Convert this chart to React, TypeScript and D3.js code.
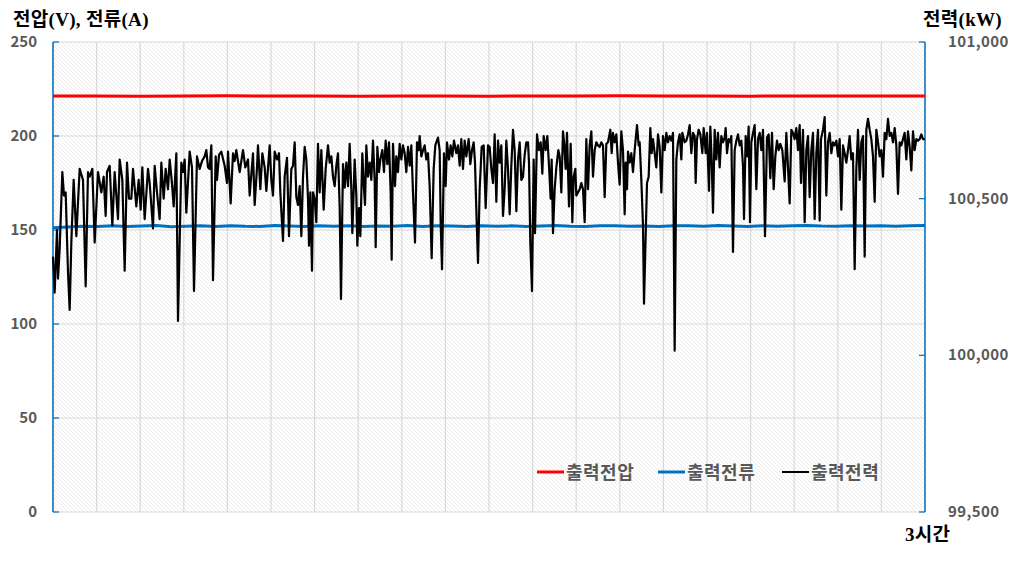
import React from "react";
import * as d3 from "d3";

// x = sample index over 3 hours (0..2616)
const TOTAL_SAMPLES = 2616;

const voltageV = [
  221.3, 221.3, 221.2, 221.3, 221.4, 221.3, 221.3, 221.2, 221.3, 221.3, 221.2,
  221.3, 221.3, 221.4, 221.3, 221.3, 221.2, 221.3, 221.3, 221.3, 221.3,
];

const currentA = [
  151.2, 151.6, 152.0, 151.8, 152.3, 151.9, 152.1, 152.4, 151.7, 152.0, 152.2,
  151.8, 152.3, 152.0, 151.9, 152.4, 152.1, 151.8, 152.2, 152.0, 152.3, 151.9,
  152.1, 152.0, 152.4, 151.8, 152.2, 152.1, 151.9, 152.3, 152.0, 152.2, 151.8,
  152.1, 152.4, 152.0, 151.9, 152.2, 152.3, 152.0, 152.1, 151.8, 152.3, 152.2,
  152.0, 152.4, 152.1, 151.9, 152.3, 152.0, 152.2, 152.4, 152.1, 152.0, 152.3,
  152.1, 152.2, 152.0, 152.3, 152.4,
];

const powerKW: [number, number][] = [
  [0, 100315], [5, 100200], [12, 100400], [15, 100245], [20, 100340], [28, 100585],
  [33, 100510], [38, 100520], [45, 100265], [50, 100145], [55, 100360], [62, 100560],
  [70, 100380], [80, 100595], [90, 100560], [98, 100220], [105, 100585], [110, 100570],
  [118, 100595], [125, 100360], [135, 100585], [145, 100520], [152, 100570], [158, 100445],
  [162, 100585], [170, 100605], [178, 100415], [185, 100585], [195, 100435], [200, 100625],
  [208, 100560], [215, 100270], [222, 100615], [228, 100500], [235, 100500], [240, 100595],
  [250, 100475], [257, 100560], [263, 100465], [268, 100600], [275, 100435], [285, 100595],
  [290, 100550], [300, 100405], [305, 100605], [312, 100520], [320, 100435], [325, 100615],
  [332, 100500], [338, 100595], [345, 100530], [350, 100625], [356, 100560], [362, 100475],
  [370, 100645], [375, 100110], [385, 100615], [390, 100585], [395, 100625], [400, 100455],
  [410, 100650], [417, 100600], [423, 100205], [432, 100635], [440, 100595], [447, 100620],
  [455, 100635], [460, 100655], [465, 100600], [470, 100595], [475, 100670], [480, 100240],
  [488, 100635], [492, 100560], [498, 100640], [505, 100650], [515, 100605], [522, 100550],
  [525, 100650], [533, 100485], [540, 100645], [545, 100620], [550, 100655], [560, 100585],
  [570, 100655], [577, 100600], [585, 100625], [590, 100510], [600, 100645], [605, 100480],
  [612, 100600], [615, 100670], [622, 100530], [628, 100645], [635, 100600], [640, 100525],
  [650, 100670], [655, 100560],
  [660, 100510], [665, 100650], [672, 100625], [678, 100645], [682, 100520], [690, 100365],
  [695, 100570], [702, 100630], [708, 100380], [715, 100595], [720, 100605], [725, 100680],
  [730, 100505], [735, 100480], [740, 100540], [745, 100380], [750, 100570], [755, 100665],
  [760, 100625], [765, 100500], [768, 100350], [772, 100520], [777, 100270], [780, 100520],
  [785, 100500], [790, 100425], [795, 100675], [800, 100520], [805, 100655], [812, 100465],
  [818, 100595], [825, 100670], [830, 100615], [835, 100635], [840, 100570], [845, 100540],
  [850, 100605], [855, 100645], [860, 100475], [864, 100180], [870, 100610], [875, 100535],
  [880, 100615], [885, 100540], [890, 100675], [895, 100530], [898, 100390], [905, 100625],
  [910, 100510], [913, 100350], [918, 100470], [922, 100380], [928, 100645], [932, 100550],
  [936, 100480], [940, 100670], [945, 100570], [950, 100615], [955, 100560], [960, 100685],
  [965, 100560], [968, 100345], [973, 100665], [978, 100585], [982, 100625], [988, 100655],
  [993, 100585], [998, 100685], [1003, 100610], [1008, 100680], [1013, 100520], [1016, 100305],
  [1020, 100675], [1026, 100540], [1030, 100635], [1035, 100585], [1040, 100675], [1045, 100625],
  [1050, 100670], [1055, 100645], [1060, 100585], [1065, 100665], [1070, 100605], [1075, 100670],
  [1080, 100520], [1086, 100360], [1092, 100680], [1097, 100655], [1100, 100700], [1105, 100635],
  [1110, 100655], [1115, 100670], [1120, 100625], [1125, 100645], [1130, 100540], [1136, 100310],
  [1142, 100595], [1147, 100670], [1150, 100680], [1155, 100695], [1160, 100655], [1163, 100425],
  [1167, 100275], [1173, 100645], [1178, 100540], [1182, 100680], [1188, 100625], [1193, 100670],
  [1198, 100635], [1203, 100685], [1210, 100645], [1215, 100670], [1220, 100605], [1225, 100690],
  [1230, 100595], [1235, 100685], [1240, 100635], [1247, 100690], [1252, 100610], [1257, 100655],
  [1262, 100680], [1266, 100615], [1270, 100465], [1275, 100295], [1280, 100530], [1286, 100665],
  [1292, 100670], [1298, 100470], [1305, 100670], [1310, 100665], [1315, 100595],
  [1320, 100550], [1325, 100705], [1330, 100490], [1335, 100685], [1340, 100615], [1345, 100670],
  [1350, 100445], [1355, 100530], [1360, 100685], [1365, 100595], [1370, 100450], [1375, 100605],
  [1380, 100720], [1385, 100655], [1390, 100460], [1395, 100625], [1400, 100680], [1405, 100560],
  [1410, 100570], [1415, 100640], [1420, 100680], [1425, 100680], [1428, 100615], [1432, 100360],
  [1437, 100205], [1442, 100625], [1446, 100390], [1452, 100705], [1458, 100655], [1463, 100680],
  [1468, 100580], [1472, 100700], [1478, 100655], [1483, 100700], [1488, 100605], [1493, 100500],
  [1496, 100625], [1500, 100390], [1505, 100530], [1510, 100600], [1516, 100655], [1520, 100635],
  [1525, 100520], [1530, 100715], [1534, 100670], [1538, 100595], [1542, 100710], [1548, 100475],
  [1553, 100675], [1558, 100425], [1562, 100570], [1567, 100595], [1570, 100510], [1575, 100520],
  [1580, 100530], [1585, 100550], [1590, 100530], [1595, 100425], [1600, 100690], [1605, 100530],
  [1610, 100670], [1615, 100715], [1620, 100570], [1625, 100655], [1630, 100680], [1635, 100670],
  [1640, 100665], [1645, 100680], [1650, 100670], [1655, 100505], [1660, 100675], [1665, 100680],
  [1672, 100720], [1676, 100645], [1680, 100710], [1685, 100680], [1690, 100705], [1695, 100615],
  [1700, 100545], [1705, 100715], [1710, 100655], [1715, 100450], [1718, 100615], [1722, 100530],
  [1725, 100650], [1730, 100615], [1735, 100645], [1740, 100585], [1745, 100655], [1752, 100735],
  [1757, 100670], [1760, 100680], [1765, 100560], [1770, 100415], [1773, 100165], [1778, 100380],
  [1782, 100550], [1787, 100570], [1792, 100725], [1796, 100645], [1800, 100690], [1805, 100645],
  [1810, 100600], [1815, 100705], [1820, 100665], [1825, 100520], [1830, 100700], [1835, 100655],
  [1840, 100710], [1845, 100680], [1850, 100700], [1855, 100685], [1860, 100710], [1865, 100015],
  [1870, 100625], [1875, 100680], [1880, 100705], [1885, 100625], [1888, 100710], [1895, 100680],
  [1900, 100685], [1905, 100705], [1910, 100735], [1915, 100645], [1920, 100710], [1925, 100700],
  [1928, 100550], [1932, 100690], [1937, 100720], [1942, 100705], [1948, 100645], [1952, 100725],
  [1958, 100645], [1962, 100710], [1968, 100525], [1972, 100730], [1976, 100625],
  [1980, 100455], [1985, 100720], [1990, 100625], [1995, 100710], [2000, 100600], [2005, 100700],
  [2010, 100680], [2015, 100695], [2018, 100725], [2022, 100645], [2027, 100690], [2032, 100680],
  [2035, 100700], [2040, 100330], [2045, 100655], [2050, 100685], [2055, 100705], [2060, 100670],
  [2065, 100685], [2070, 100605], [2073, 100435], [2078, 100700], [2083, 100635], [2087, 100730],
  [2091, 100425], [2095, 100680], [2100, 100710], [2105, 100735], [2110, 100530], [2115, 100690],
  [2120, 100710], [2125, 100655], [2130, 100720], [2136, 100380], [2142, 100695], [2147, 100705],
  [2152, 100565], [2157, 100710], [2162, 100530], [2167, 100635], [2172, 100685], [2177, 100655],
  [2182, 100675], [2188, 100655], [2195, 100555], [2200, 100710], [2205, 100600], [2210, 100485],
  [2215, 100720], [2220, 100710], [2225, 100690], [2230, 100725], [2235, 100655], [2240, 100735],
  [2244, 100550], [2250, 100720], [2255, 100425], [2260, 100655], [2265, 100700], [2270, 100505],
  [2275, 100655], [2280, 100710], [2285, 100435], [2290, 100645], [2295, 100720], [2300, 100430],
  [2304, 100690], [2310, 100720], [2315, 100760], [2320, 100510], [2325, 100680], [2330, 100710],
  [2335, 100645], [2340, 100680], [2345, 100670], [2350, 100685], [2355, 100635], [2360, 100690],
  [2365, 100465], [2370, 100670], [2375, 100645], [2380, 100615], [2385, 100655], [2390, 100700],
  [2395, 100625], [2400, 100645], [2405, 100275], [2410, 100595], [2415, 100720], [2420, 100560],
  [2425, 100680], [2430, 100700], [2435, 100315], [2440, 100720], [2445, 100755], [2450, 100720],
  [2455, 100690], [2460, 100635], [2465, 100490], [2470, 100720], [2475, 100680], [2480, 100635],
  [2485, 100655], [2490, 100570], [2495, 100710], [2500, 100690], [2505, 100755], [2510, 100700],
  [2515, 100710], [2520, 100680], [2525, 100725], [2530, 100670], [2535, 100515], [2540, 100680],
  [2545, 100670], [2550, 100690], [2555, 100710], [2560, 100625], [2565, 100715], [2570, 100665],
  [2575, 100590], [2580, 100715], [2585, 100655], [2590, 100690], [2595, 100685], [2600, 100690],
  [2605, 100705], [2610, 100690], [2616, 100690],
];

const leftTicks = [0, 50, 100, 150, 200, 250];
const rightTicks = [99500, 100000, 100500, 101000];
const gridColumns = 20;

const legendItems = [
  { label: "출력전압", color: "#ff0000" },
  { label: "출력전류", color: "#0070c0" },
  { label: "출력전력", color: "#000000" },
];

const W = 1021;
const H = 572;
const plot = { left: 53, right: 925, top: 42, bottom: 512 };
const axisBlue = "#0070c0";
const gridGray = "#d9d9d9";
const labelGray = "#595959";
const cjk = "'Noto Sans CJK KR', 'Noto Sans', sans-serif";
const serifCjk = "'Liberation Serif', 'Noto Sans CJK KR', serif";

export default function App() {
  const x = d3.scaleLinear().domain([0, TOTAL_SAMPLES]).range([plot.left, plot.right]);
  const yL = d3.scaleLinear().domain([0, 250]).range([plot.bottom, plot.top]);
  const yR = d3.scaleLinear().domain([99500, 101000]).range([plot.bottom, plot.top]);

  const evenLine = (vals: number[]) =>
    d3
      .line<number>()
      .x((_, i) => x((i / (vals.length - 1)) * TOTAL_SAMPLES))
      .y((d) => yL(d))(vals) || "";

  const powerPath =
    d3
      .line<[number, number]>()
      .x((d) => x(d[0]))
      .y((d) => yR(d[1]))(powerKW) || "";

  const colX = d3.range(gridColumns + 1).map((i) => x((i / gridColumns) * TOTAL_SAMPLES));

  const legendPos = [537, 658, 782];

  return (
    <svg
      width={W}
      height={H}
      style={{ position: "absolute", left: 0, top: 0, background: "#fff" }}
    >
      <defs>
        <pattern id="hatch" patternUnits="userSpaceOnUse" width={4} height={4}>
          <path
            d="M-1,-1 L5,5 M-1,3 L1,5 M3,-1 L5,1"
            stroke="#e0e0e0"
            strokeWidth={0.6}
          />
        </pattern>
      </defs>

      <rect
        x={plot.left}
        y={plot.top}
        width={plot.right - plot.left}
        height={plot.bottom - plot.top}
        fill="url(#hatch)"
      />

      {/* grid */}
      {leftTicks.map((t) => (
        <line
          key={"h" + t}
          x1={plot.left}
          x2={plot.right}
          y1={yL(t)}
          y2={yL(t)}
          stroke={gridGray}
          strokeWidth={1.2}
        />
      ))}
      {colX.map((cx, i) => (
        <line
          key={"v" + i}
          x1={cx}
          x2={cx}
          y1={plot.top}
          y2={plot.bottom}
          stroke={gridGray}
          strokeWidth={1.2}
        />
      ))}

      {/* axes */}
      <line x1={plot.left} x2={plot.left} y1={plot.top} y2={plot.bottom} stroke={axisBlue} strokeWidth={1.5} />
      <line x1={plot.right} x2={plot.right} y1={plot.top} y2={plot.bottom} stroke={axisBlue} strokeWidth={1.5} />
      {leftTicks.map((t) => (
        <g key={"lt" + t}>
          <line x1={plot.left} x2={plot.left + 6} y1={yL(t)} y2={yL(t)} stroke={axisBlue} strokeWidth={1.2} />
          <text
            x={37}
            y={yL(t) + 5}
            textAnchor="end"
            fontFamily={cjk}
            fontWeight="bold"
            fontSize={15}
            fill={labelGray}
          >
            {t}
          </text>
        </g>
      ))}
      {rightTicks.map((t) => (
        <g key={"rt" + t}>
          <line x1={plot.right - 6} x2={plot.right} y1={yR(t)} y2={yR(t)} stroke={axisBlue} strokeWidth={1.2} />
          <text
            x={948}
            y={yR(t) + 5}
            textAnchor="start"
            fontFamily={cjk}
            fontWeight="bold"
            fontSize={15}
            fill={labelGray}
            letterSpacing={0.4}
          >
            {d3.format(",")(t)}
          </text>
        </g>
      ))}

      {/* series */}
      <path d={evenLine(voltageV)} fill="none" stroke="#ff0000" strokeWidth={3} />
      <path d={evenLine(currentA)} fill="none" stroke="#0070c0" strokeWidth={3} />
      <path d={powerPath} fill="none" stroke="#000" strokeWidth={2.2} strokeLinejoin="round" />

      {/* titles */}
      <text x={13} y={26} fontFamily={serifCjk} fontWeight="bold" fontSize={19} fill="#000" letterSpacing={0.3}>
        전압(V), 전류(A)
      </text>
      <text x={923} y={26} fontFamily={serifCjk} fontWeight="bold" fontSize={19} fill="#000" letterSpacing={0.3}>
        전력(kW)
      </text>
      <text x={905} y={541} fontFamily={serifCjk} fontWeight="bold" fontSize={19} fill="#000" letterSpacing={0.3}>
        3시간
      </text>

      {/* legend */}
      {legendItems.map((item, i) => (
        <g key={item.label}>
          <line
            x1={legendPos[i]}
            x2={legendPos[i] + 27}
            y1={472}
            y2={472}
            stroke={item.color}
            strokeWidth={i === 2 ? 2 : 3}
          />
          <text
            x={legendPos[i] + 29}
            y={479}
            fontFamily={cjk}
            fontWeight="bold"
            fontSize={18}
            fill={labelGray}
            letterSpacing={0.5}
          >
            {item.label}
          </text>
        </g>
      ))}
    </svg>
  );
}
